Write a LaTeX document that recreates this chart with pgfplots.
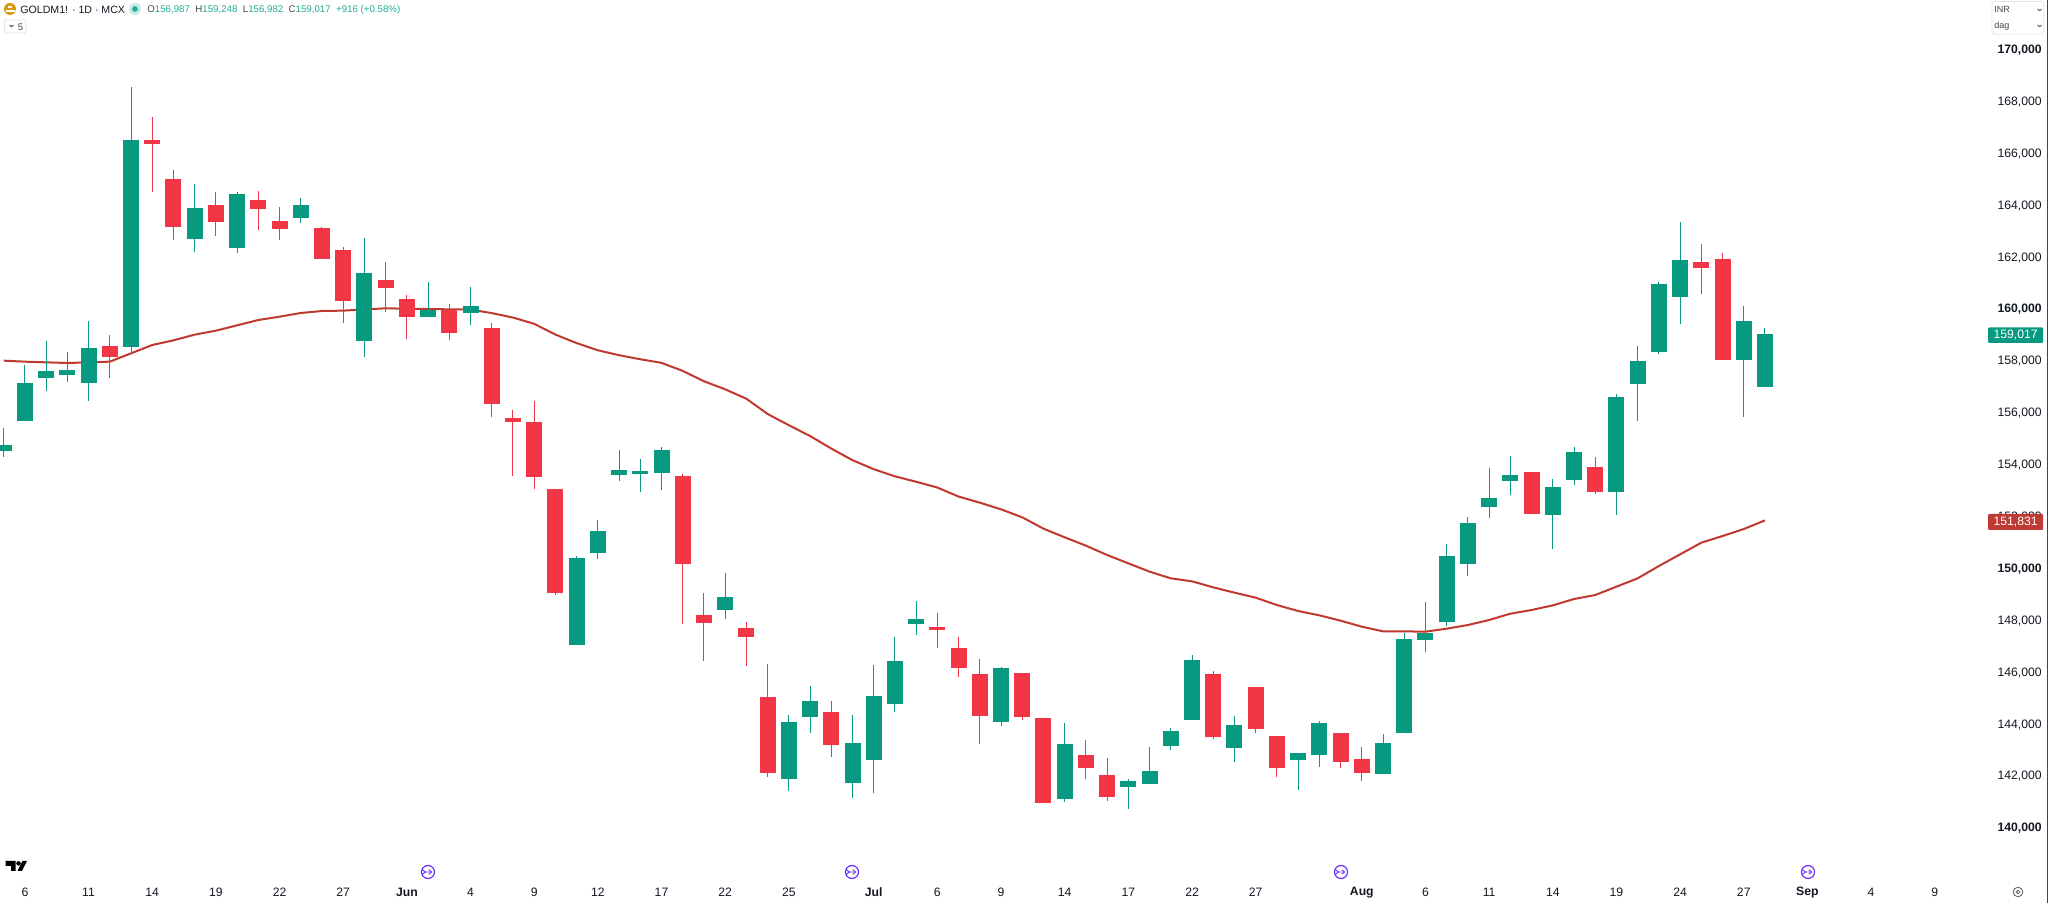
\documentclass[border=0pt]{standalone}
\usepackage{pgfplots}
\usepackage{pgfplotstable}
\usepackage{fontspec}
\setmainfont{Liberation Sans}
\pgfplotsset{compat=1.18}
\definecolor{cgreen}{HTML}{089981}
\definecolor{cred}{HTML}{F23645}
\definecolor{cma}{HTML}{C0392F}
\definecolor{cbox}{HTML}{BF3A33}
\definecolor{ctxt}{HTML}{131722}
\definecolor{cteal}{HTML}{22AB94}
\definecolor{cpurp}{HTML}{6A2DFF}
\definecolor{cline}{HTML}{E0E3EB}
\definecolor{cgold}{HTML}{DB9A0C}
\pgfplotstableread{
i hi top bot lo
0 155380 154737 154522 154276
1 157821 157114 155675 155675
2 158746 157589 157307 156831
3 158334 157628 157448 157178
4 159516 158476 157140 156446
6 168548 166492 158527 158232
9 164796 163871 162664 162189
11 164475 164411 162343 162150
14 164244 163974 163499 163306
17 162728 161353 158746 158142
20 161032 159927 159671 159671
22 160827 160107 159838 159349
27 150469 150383 147011 147011
28 151852 151420 150573 150348
29 154532 153789 153581 153339
30 154204 153754 153616 152941
31 154653 154532 153668 152993
34 149812 148878 148394 148048
37 144331 144072 141859 141392
38 145438 144867 144245 143657
40 144314 143259 141703 141150
41 146250 145057 142585 141323
42 147340 146406 144763 144452
43 148723 148048 147858 147409
47 146194 146156 144062 143908
50 144011 143201 141094 140991
53 141852 141788 141570 140722
54 143111 142161 141672 141672
55 143818 143702 143124 142996
56 146644 146451 144126 144126
58 144280 143933 143047 142520
61 142854 142854 142597 141428
62 144088 144023 142777 142340
65 143599 143253 142071 142071
66 147505 147248 143625 143625
67 148687 147479 147235 146747
68 150922 150447 147916 147762
69 151963 151744 150138 149689
70 153851 152682 152335 151911
71 154314 153568 153337 152810
73 153427 153106 152052 150742
74 154660 154455 153401 153196
76 156703 156587 152939 152052
77 158553 157988 157076 155675
78 161032 160955 158322 158232
79 163332 161855 160454 159414
82 160082 159517 158013 155829
83 159248 159017 156987 156982
}\greenT
\pgfplotstableread{
i hi top bot lo
5 158977 158553 158142 157332
7 167379 166492 166351 164501
8 165349 164989 163139 162638
10 164488 164000 163319 162805
12 164527 164180 163846 163024
13 163923 163370 163062 162638
15 163139 163101 161893 161893
16 162381 162253 160274 159426
18 161790 161097 160801 159876
19 160518 160364 159671 158835
21 160172 159927 159067 158784
23 159452 159259 156305 155804
24 156088 155777 155639 153547
25 156417 155639 153512 153028
26 153028 153028 149017 148965
32 153616 153529 150158 147841
33 149017 148187 147875 146406
35 147910 147685 147357 146233
36 146285 145023 142083 141962
39 144867 144452 143173 142706
44 148256 147720 147616 146925
45 147351 146901 146156 145809
46 146503 145899 144293 143201
48 145950 145950 144255 144139
49 144229 144229 140953 140953
51 143368 142790 142276 141852
52 142674 142006 141184 141030
57 146015 145899 143471 143419
59 145398 145398 143792 143625
60 143522 143522 142276 141929
63 143638 143638 142533 142276
64 143111 142636 142109 141801
72 153697 153697 152078 152078
75 154275 153877 152913 152862
80 162484 161790 161546 160570
81 162124 161906 158001 158001
}\redT
\pgfplotstableread{
i ma
0 157988
1 157949
2 157923
3 157898
4 157923
5 157949
6 158270
7 158591
8 158771
9 158990
10 159144
11 159349
12 159555
13 159683
14 159825
15 159902
16 159915
17 159966
18 160004
19 159992
20 159979
21 159966
22 159960
23 159820
24 159650
25 159408
26 158993
27 158664
28 158388
29 158198
30 158042
31 157904
32 157593
33 157195
34 156884
35 156521
36 155933
37 155500
38 155085
39 154601
40 154152
41 153806
42 153529
43 153322
44 153097
45 152750
46 152515
47 152258
48 151950
49 151513
50 151179
51 150858
52 150498
53 150177
54 149856
55 149599
56 149483
57 149252
58 149047
59 148854
60 148571
61 148340
62 148173
63 147967
64 147736
65 147556
66 147556
67 147543
68 147659
69 147800
70 147993
71 148237
72 148378
73 148558
74 148802
75 148956
76 149277
77 149599
78 150074
79 150524
80 150973
81 151230
82 151500
83 151831
}\maT
\newcommand{\chev}[2]{\draw[ctxt!75,line width=0.45pt,line cap=round,line join=round] (#1-1.8,#2-0.9)--(#1,#2+0.9)--(#1+1.8,#2-0.9);}
\newcommand{\purp}[2]{%
  \draw[cpurp,line width=0.6pt] (#1,#2) circle[radius=6.5];
  \draw[cpurp,line width=0.45pt] (#1-6,#2-2.5)--(#1-2.5,#2)--(#1+3.5,#2);
  \draw[cpurp,line width=0.45pt] (#1+1,#2-2.2)--(#1+3.5,#2)--(#1+1,#2+2.2);
  \draw[cpurp,line width=0.45pt] (#1-6,#2+2.5)--(#1-2.5,#2);}
\begin{document}
\begin{tikzpicture}
\path[use as bounding box] (0,0) rectangle (1024pt,451.5pt);
\begin{axis}[
  at={(0,12pt)},anchor=south west,
  scale only axis,width=992.5pt,height=439.5pt,
  xmin=-0.174,xmax=93.37,
  ymin=138012,ymax=171888,
  clip=false,
  axis line style={draw=none},
  major tick length=0pt,
  scaled x ticks=false,scaled y ticks=false,
  xtick={1,4,7,10,13,16,19,22,25,28,31,34,37,41,44,47,50,53,56,59,64,67,70,73,76,79,82,85,88,91},
  xticklabels={6,11,14,19,22,27,\textbf{Jun},4,9,12,17,22,25,\textbf{Jul},6,9,14,17,22,27,\textbf{Aug},6,11,14,19,24,27,\textbf{Sep},4,9},
  xticklabel style={font=\fontsize{6.1}{7}\selectfont,text=ctxt,anchor=center,yshift=-6.6pt,inner sep=0pt},
  xtick pos=bottom,
  ytick={140000,142000,144000,146000,148000,150000,152000,154000,156000,158000,160000,162000,164000,166000,168000,170000},
  yticklabels={{\textbf{140,000}},{142,000},{144,000},{146,000},{148,000},{\textbf{150,000}},{152,000},{154,000},{156,000},{158,000},{\textbf{160,000}},{162,000},{164,000},{166,000},{168,000},{\textbf{170,000}}},
  yticklabel pos=right,
  yticklabel style={font=\fontsize{6.1}{7}\selectfont,text=ctxt,anchor=east,inner sep=0pt,xshift=28.5pt,yshift=-0.5pt},
  every axis plot/.append style={forget plot},
]
\addplot[cma,line width=1pt,mark=none] table[x=i,y=ma] {\maT};
% wicks
\addplot[draw=none,mark=none,error bars/.cd,y dir=plus,y explicit,error mark=none,
  error bar style={cgreen,line width=0.5pt}]
  table[x=i,y=lo,y error plus expr=\thisrow{hi}-\thisrow{lo}] {\greenT};
\addplot[draw=none,mark=none,error bars/.cd,y dir=plus,y explicit,error mark=none,
  error bar style={cred,line width=0.5pt}]
  table[x=i,y=lo,y error plus expr=\thisrow{hi}-\thisrow{lo}] {\redT};
% bodies
\addplot[draw=none,mark=none,error bars/.cd,y dir=plus,y explicit,error mark=none,
  error bar style={cgreen,line width=8pt}]
  table[x=i,y=bot,y error plus expr=\thisrow{top}-\thisrow{bot}] {\greenT};
\addplot[draw=none,mark=none,error bars/.cd,y dir=plus,y explicit,error mark=none,
  error bar style={cred,line width=8pt}]
  table[x=i,y=bot,y error plus expr=\thisrow{top}-\thisrow{bot}] {\redT};
\end{axis}
\begin{scope}[x=0.5pt,y=-0.5pt,yshift=451.5pt]
  % price boxes
  \fill[cgreen,rounded corners=0.5pt] (1988,327.5) rectangle (2043,343);
  \node[text=white,font=\fontsize{6.1}{7}\selectfont,anchor=east,inner sep=0pt] at (2038,335.5) {159,017};
  \fill[cbox,rounded corners=0.5pt] (1988,514) rectangle (2043,530);
  \node[text=white,font=\fontsize{6.1}{7}\selectfont,anchor=east,inner sep=0pt] at (2038,522) {151,831};
  % right border
  \draw[ctxt!80,line width=0.5pt] (2047.5,0)--(2047.5,903);
  % header
  \fill[cgold] (10,9) circle[radius=6];
  \fill[white] (5.5,10.5) rectangle (14.5,12);
  \fill[white] (7.8,6) rectangle (12.2,8);
  \node[anchor=west,inner sep=0pt,text=ctxt,font=\fontsize{5.3}{7}\selectfont] at (20,9.5) {GOLDM1! · 1D · MCX};
  \fill[cteal!25] (135,9) circle[radius=6];
  \fill[cteal] (135,9) circle[radius=2.8];
  \node[anchor=west,inner sep=0pt,text=cteal,font=\fontsize{4.85}{6}\selectfont] at (147,10)
    {{\color{ctxt!80}O}156,987\ \ {\color{ctxt!80}H}159,248\ \ {\color{ctxt!80}L}156,982\ \ {\color{ctxt!80}C}159,017\ \ +916 (+0.58\%)};
  % small buttons
  \draw[cline,rounded corners=1pt,line width=0.4pt] (4.5,20)rectangle(26,33);
  \chev{11.5}{26}
  \node[anchor=center,inner sep=0pt,text=ctxt!80,font=\fontsize{4.8}{6}\selectfont] at (20.5,27) {5};
  \draw[cline,rounded corners=1.2pt,line width=0.4pt] (1992,1.5)rectangle(2044,34);
  \node[anchor=west,inner sep=0pt,text=ctxt!80,font=\fontsize{4.5}{6}\selectfont] at (1994,9.5) {INR};
  \node[anchor=west,inner sep=0pt,text=ctxt!80,font=\fontsize{4.5}{6}\selectfont] at (1994,26) {dag};
  \chev{2039.5}{10}
  \chev{2039.5}{26}
  % logo
  \fill[black] (5.5,861)--(15.5,861)--(15.5,871)--(11,871)--(11,866)--(5.5,866)--cycle;
  \fill[black] (18.5,863.4) circle[radius=2.3];
  \fill[black] (22.5,861)--(27,861)--(22,871)--(17.5,871)--cycle;
  % purple icons
  \purp{428}{872}
  \purp{852}{872}
  \purp{1341}{872}
  \purp{1808}{872}
  % gear
  \draw[ctxt!70,line width=0.4pt] (2018,892) circle[radius=4.8];
  \draw[ctxt!70,line width=0.4pt] (2018,892) circle[radius=1.8];
\end{scope}
\end{tikzpicture}
\end{document}
